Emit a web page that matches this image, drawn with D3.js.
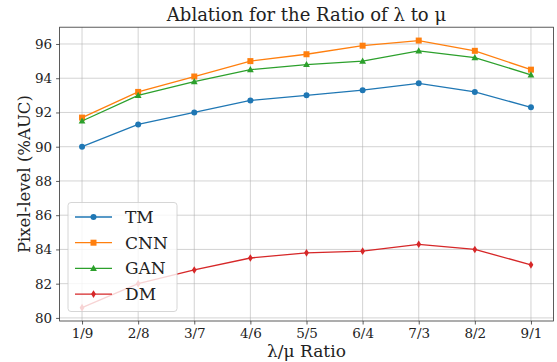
<!DOCTYPE html>
<html>
<head>
<meta charset="utf-8">
<script src="https://cdn.jsdelivr.net/npm/d3@7"></script>
<style>
  body { margin: 0; background: #fff; }
  text { font-family: "DejaVu Serif", serif; fill: #222; }
</style>
</head>
<body>
<script>
const ratios = ["1/9", "2/8", "3/7", "4/6", "5/5", "6/4", "7/3", "8/2", "9/1"];
const tmValues  = [90.0, 91.3, 92.0, 92.7, 93.0, 93.3, 93.7, 93.2, 92.3];
const cnnValues = [91.7, 93.2, 94.1, 95.0, 95.4, 95.9, 96.2, 95.6, 94.5];
const ganValues = [91.5, 93.0, 93.8, 94.5, 94.8, 95.0, 95.6, 95.2, 94.2];
const dmValues  = [80.6, 82.0, 82.8, 83.5, 83.8, 83.9, 84.3, 84.0, 83.1];
const yTicks = [80, 82, 84, 86, 88, 90, 92, 94, 96];

const series = [
    {name: "TM",  values: tmValues,  color: "#1f77b4", marker: "circle"},
    {name: "CNN", values: cnnValues, color: "#ff7f0e", marker: "square"},
    {name: "GAN", values: ganValues, color: "#2ca02c", marker: "triangle"},
    {name: "DM",  values: dmValues,  color: "#d62728", marker: "thin_diamond"}
];

const width = 557, height = 362;
const margin = {left: 59.6, right: 3.6, top: 27.2, bottom: 41};

const svg = d3.select("body").append("svg")
    .attr("width", width)
    .attr("height", height);

// matplotlib-like auto limits (5% margins)
const x = d3.scaleLinear()
    .domain([-0.4, ratios.length - 1 + 0.4])
    .range([margin.left, width - margin.right]);

const y = d3.scaleLinear()
    .domain([79.82, 96.98])
    .range([height - margin.bottom, margin.top]);

// grid
svg.append("g")
    .selectAll("line.vg")
    .data(ratios)
    .enter().append("line")
    .attr("x1", (d, i) => x(i)).attr("x2", (d, i) => x(i))
    .attr("y1", y.range()[0]).attr("y2", y.range()[1])
    .attr("stroke", "#b0b0b0").attr("stroke-opacity", 0.7).attr("stroke-width", 0.8);

svg.append("g")
    .selectAll("line.hg")
    .data(yTicks)
    .enter().append("line")
    .attr("x1", x.range()[0]).attr("x2", x.range()[1])
    .attr("y1", d => y(d)).attr("y2", d => y(d))
    .attr("stroke", "#b0b0b0").attr("stroke-opacity", 0.7).attr("stroke-width", 0.8);

// axes
const xAxis = svg.append("g")
    .attr("transform", `translate(0,${height - margin.bottom})`)
    .call(d3.axisBottom(x).tickValues(d3.range(ratios.length)).tickFormat(i => ratios[i]).tickSize(3.5).tickPadding(4));

const yAxis = svg.append("g")
    .attr("transform", `translate(${margin.left},0)`)
    .call(d3.axisLeft(y).tickValues(yTicks).tickSize(3.5).tickPadding(4));

[xAxis, yAxis].forEach(a => {
    a.select(".domain").remove();
    a.selectAll("line").attr("stroke", "#333").attr("stroke-width", 0.8);
    a.selectAll("text").style("font-size", "13.5px").style("font-family", "DejaVu Serif").attr("fill", "#222");
});

svg.append("rect")
    .attr("x", x.range()[0]).attr("y", y.range()[1])
    .attr("width", x.range()[1] - x.range()[0])
    .attr("height", y.range()[0] - y.range()[1])
    .attr("fill", "none").attr("stroke", "#333").attr("stroke-width", 0.8);

// markers
function drawMarker(g, type, color) {
    if (type === "circle") {
        g.append("circle").attr("r", 3).attr("fill", color);
    } else if (type === "square") {
        g.append("rect").attr("x", -3).attr("y", -3).attr("width", 6).attr("height", 6).attr("fill", color);
    } else if (type === "triangle") {
        g.append("path").attr("d", "M0,-3.6L3.4,2.6L-3.4,2.6Z").attr("fill", color);
    } else {
        g.append("path").attr("d", "M0,-3.8L2.4,0L0,3.8L-2.4,0Z").attr("fill", color);
    }
}

const line = d3.line()
    .x((d, i) => x(i))
    .y(d => y(d));

series.forEach(s => {
    svg.append("path")
        .datum(s.values)
        .attr("d", line)
        .attr("fill", "none")
        .attr("stroke", s.color)
        .attr("stroke-width", 1.3);

    s.values.forEach((v, i) => {
        const g = svg.append("g").attr("transform", `translate(${x(i)},${y(v)})`);
        drawMarker(g, s.marker, s.color);
    });
});

// legend
const legend = svg.append("g").attr("transform", "translate(68,202.5)");
legend.append("rect")
    .attr("width", 109).attr("height", 109).attr("rx", 3)
    .attr("fill", "#fff").attr("fill-opacity", 0.8)
    .attr("stroke", "#ccc").attr("stroke-width", 0.8);

series.forEach((s, i) => {
    const ly = 14.5 + i * 25.7;
    const row = legend.append("g").attr("transform", `translate(0,${ly})`);
    row.append("line")
        .attr("x1", 7).attr("x2", 44)
        .attr("stroke", s.color).attr("stroke-width", 1.3);
    drawMarker(row.append("g").attr("transform", "translate(25.5,0)"), s.marker, s.color);
    row.append("text")
        .attr("x", 57).attr("y", 0)
        .attr("dy", "0.35em")
        .style("font-size", "17px")
        .text(s.name);
});

// title and labels
svg.append("text")
    .attr("x", (x.range()[0] + x.range()[1]) / 2)
    .attr("y", 21)
    .attr("text-anchor", "middle")
    .style("font-size", "18px")
    .text("Ablation for the Ratio of λ to μ");

svg.append("text")
    .attr("x", (x.range()[0] + x.range()[1]) / 2)
    .attr("y", 357)
    .attr("text-anchor", "middle")
    .style("font-size", "17px")
    .text("λ/μ Ratio");

svg.append("text")
    .attr("transform", `translate(30,${(y.range()[0] + y.range()[1]) / 2}) rotate(-90)`)
    .attr("text-anchor", "middle")
    .style("font-size", "16.5px")
    .text("Pixel-level (%AUC)");
</script>
</body>
</html>
